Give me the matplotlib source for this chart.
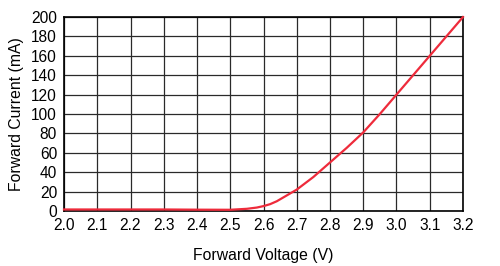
import matplotlib
matplotlib.use("Agg")
import matplotlib.pyplot as plt
import numpy as np

plt.rcParams['font.family'] = ['Liberation Sans', 'DejaVu Sans']

# values
voltage = [2.0, 2.1, 2.2, 2.3, 2.4, 2.5, 2.55, 2.58, 2.6, 2.62, 2.64, 2.66,
           2.7, 2.75, 2.8, 2.85, 2.9, 2.95, 3.0, 3.05, 3.1, 3.15, 3.2]
current = [1.5, 1.5, 1.5, 1.5, 1.3, 1.2, 2.2, 3.5, 5, 7, 10, 14,
           22, 35, 50, 65, 81, 100, 120, 140, 160, 180, 200]

xticks = np.round(np.arange(2.0, 3.21, 0.1), 1)
yticks = np.arange(0, 201, 20)

fig = plt.figure(figsize=(5.0, 2.66), dpi=100)
ax = fig.add_axes([0.128, 0.207, 0.798, 0.729])

ax.plot(voltage, current, color='#ee2b3b', lw=1.6, zorder=3, clip_on=False)

ax.set_xlim(2.0, 3.2)
ax.set_ylim(0, 200)
ax.set_xticks(xticks)
ax.set_xticklabels([f"{v:.1f}" for v in xticks])
ax.set_yticks(yticks)
ax.grid(True, color='#2a2a2a', lw=0.9)
ax.tick_params(length=0, labelsize=11.2, pad=5)
for s in ax.spines.values():
    s.set_color('black')
    s.set_linewidth(1.2)

ax.set_xlabel('Forward Voltage (V)', fontsize=11.3, labelpad=11)
ax.set_ylabel('Forward Current (mA)', fontsize=11.3, labelpad=5)

fig.savefig('out.png', dpi=100)
